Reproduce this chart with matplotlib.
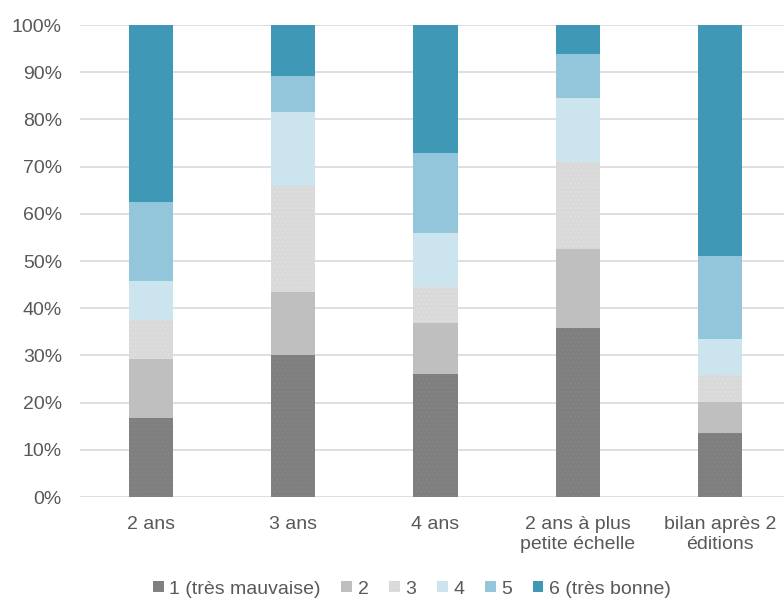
import matplotlib
matplotlib.use("Agg")
import matplotlib.pyplot as plt
import numpy as np

plt.rcParams['font.family'] = ['Liberation Sans', 'DejaVu Sans']
plt.rcParams['hatch.linewidth'] = 0.5

categories = ["2 ans", "3 ans", "4 ans", "2 ans à plus\npetite échelle", "bilan après 2\néditions"]
series_names = ["1 (très mauvaise)", "2", "3", "4", "5", "6 (très bonne)"]
s1 = [16.7, 30.0, 26.0, 35.7, 13.6]
s2 = [12.5, 13.5, 10.8, 16.8, 6.6]
s3 = [8.3, 22.4, 7.7, 18.5, 5.6]
s4 = [8.3, 15.7, 11.5, 13.6, 7.6]
s5 = [16.7, 7.6, 16.8, 9.3, 17.7]
s6 = [37.5, 10.8, 27.2, 6.1, 48.9]
series = [s1, s2, s3, s4, s5, s6]
colors = ["#7f7f7f", "#bfbfbf", "#d9d9d9", "#cbe4ed", "#93c6db", "#3e98b6"]
hatch_cols = ["#888888", "#bfbfbf", "#e2e2e2", "#cbe4ed", "#93c6db", "#3e98b6"]
hatches = ["....", None, "....", None, None, None]

fig = plt.figure(figsize=(7.84, 6.01), dpi=100)
ax = fig.add_axes([80/784, 1-497/601, 711/784, (497-25)/601])

x = np.arange(len(categories))
bottom = np.zeros(len(categories))
handles = []
for vals, c, hc, h, name in zip(series, colors, hatch_cols, hatches, series_names):
    b = ax.bar(x, vals, width=0.31, bottom=bottom, color=c, edgecolor=hc,
               linewidth=0, hatch=h, label=name, zorder=3)
    handles.append(b)
    bottom += np.array(vals)

ax.set_xlim(-0.5, len(categories) - 0.5)
ax.set_ylim(0, 100)
ax.set_yticks(np.arange(0, 101, 10))
ax.set_yticklabels([f"{v}%" for v in range(0, 101, 10)])
ax.set_xticks(x)
ax.set_xticklabels(categories)
ax.tick_params(axis='both', length=0, colors="#595959", labelsize=14)
ax.tick_params(axis='y', pad=13)
ax.tick_params(axis='x', pad=14)
ax.grid(axis='y', color="#d9d9d9", linewidth=1.2, zorder=0)
ax.set_axisbelow(True)
for sp in ax.spines.values():
    sp.set_visible(False)

leg = fig.legend(handles=handles, labels=series_names, loc='center',
                 bbox_to_anchor=(0.5 + 20/784, 1 - 589/601), ncol=6, frameon=False,
                 handlelength=0.55, handleheight=0.55, handletextpad=0.3,
                 columnspacing=1.05, fontsize=14, labelcolor="#595959")

fig.savefig("out.png", dpi=100)
